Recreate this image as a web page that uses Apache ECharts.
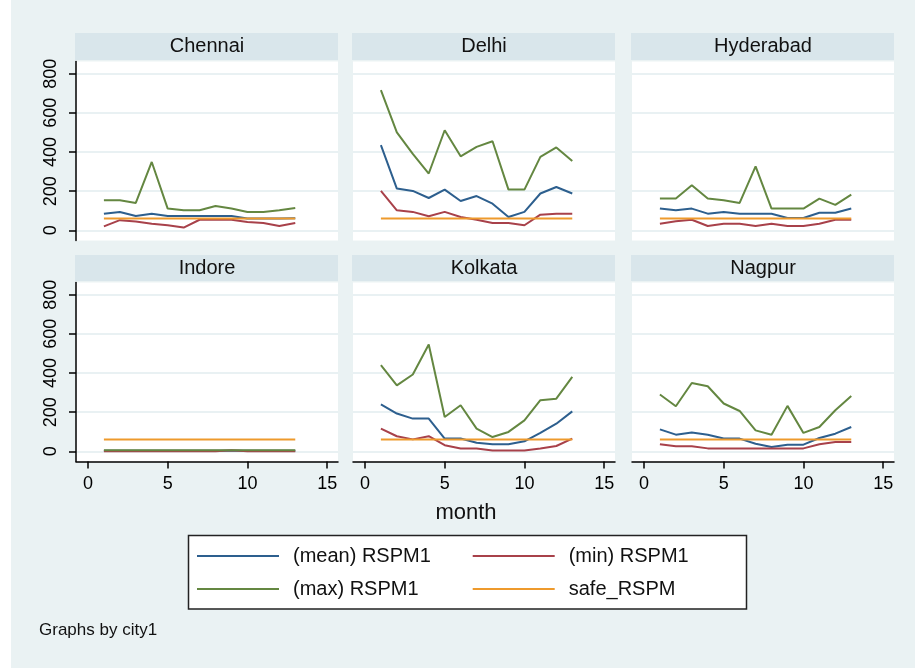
<!DOCTYPE html>
<html><head><meta charset="utf-8">
<script src="https://cdn.jsdelivr.net/npm/echarts@6/dist/echarts.min.js"></script>
<style>html,body{margin:0;padding:0;background:#fff}#c{width:915px;height:668px}</style>
</head><body><div id="c"></div>
<script>
const months = [1,2,3,4,5,6,7,8,9,10,11,12,13];
const cities = ['Chennai','Delhi','Hyderabad','Indore','Kolkata','Nagpur'];
const yTicks = [0,200,400,600,800];
const xTicks = [0,5,10,15];
const seriesNames = ['(mean) RSPM1','(min) RSPM1','(max) RSPM1','safe_RSPM'];

const chennaiMean = [85,94,73,85,73,73,73,73,73,60,60,60,62];
const chennaiMin  = [20,52,45,34,26,14,54,54,54,43,37,22,37];
const chennaiMax  = [153,153,140,349,111,102,102,124,111,94,94,102,114];

const delhiMean = [435,213,201,165,208,150,175,136,68,94,188,221,188];
const delhiMin  = [201,102,94,72,94,68,54,37,37,26,80,85,85];
const delhiMax  = [716,500,390,290,511,378,426,455,208,208,375,423,354];

const hyderabadMean = [111,102,111,85,94,85,85,85,63,63,90,90,111];
const hyderabadMin  = [34,46,54,22,34,34,22,34,22,22,34,54,54];
const hyderabadMax  = [162,162,230,162,153,140,327,111,111,111,162,130,182];

const indoreMean = [3,3,3,3,3,3,3,3,3,3,3,3,3];
const indoreMin  = [0,0,0,0,0,0,0,0,6,0,0,0,0];
const indoreMax  = [6,6,6,6,6,6,6,6,6,6,6,6,6];

const kolkataMean = [240,193,167,167,65,65,44,36,36,51,94,141,204];
const kolkataMin  = [116,77,61,77,31,14,14,4,4,4,14,27,65];
const kolkataMax  = [440,337,392,545,175,235,116,73,99,158,261,269,380];

const nagpurMean = [112,85,96,85,65,65,39,22,34,34,68,90,124];
const nagpurMin  = [36,26,26,15,15,15,15,15,15,15,36,48,48];
const nagpurMax  = [290,230,349,332,244,206,107,85,232,94,124,210,283];

const safeRSPM = [60,60,60,60,60,60,60,60,60,60,60,60,60];

const cityData = [
  [chennaiMean, chennaiMin, chennaiMax, safeRSPM],
  [delhiMean, delhiMin, delhiMax, safeRSPM],
  [hyderabadMean, hyderabadMin, hyderabadMax, safeRSPM],
  [indoreMean, indoreMin, indoreMax, safeRSPM],
  [kolkataMean, kolkataMin, kolkataMax, safeRSPM],
  [nagpurMean, nagpurMin, nagpurMax, safeRSPM]
];

const colors = ['#2d5f8e','#a8414a','#648741','#ee9a2c'];
const FONT = '"Liberation Sans", Arial, sans-serif';
const cols = [{left:76,width:262},{left:353,width:262},{left:632,width:262}];
const rows = [{top:61.5,height:179,head:33,headH:27},{top:282.5,height:179,head:255,headH:26}];

const grids = [], xAxes = [], yAxes = [], series = [], graphics = [];
cities.forEach((city, i) => {
  const c = cols[i % 3], r = rows[Math.floor(i / 3)];
  const bottom = i >= 3, leftCol = (i % 3) === 0;
  grids.push({left:c.left, top:r.top, width:c.width, height:r.height, show:true,
    backgroundColor:'#ffffff', borderWidth:0, containLabel:false, outerBoundsMode:'none'});
  xAxes.push({type:'value', gridIndex:i, min:-0.75, max:15.68, show:bottom,
    axisLine:{show:bottom, onZero:false, lineStyle:{color:'#000', width:1.5}},
    axisTick:{show:bottom, customValues:xTicks, length:7, lineStyle:{color:'#000', width:1.5}},
    axisLabel:{show:bottom, customValues:xTicks, fontSize:18, fontFamily:FONT, color:'#000', margin:14},
    splitLine:{show:false}});
  yAxes.push({type:'value', gridIndex:i, min:-52, max:862,
    axisLine:{show:leftCol, onZero:false, lineStyle:{color:'#000', width:1.5}},
    axisTick:{show:leftCol, customValues:yTicks, length:7, lineStyle:{color:'#000', width:1.5}},
    axisLabel:{show:leftCol, customValues:yTicks, rotate:90, fontSize:18, fontFamily:FONT, color:'#000', margin:16},
    splitLine:{show:true, lineStyle:{color:'#e9f1f3', width:2}}});
  cityData[i].forEach((arr, k) => {
    series.push({name:seriesNames[k], type:'line', xAxisIndex:i, yAxisIndex:i,
      data: months.map((m, j) => [m, arr[j]]), showSymbol:false, symbol:'none',
      color:colors[k], lineStyle:{color:colors[k], width:2}, silent:true, animation:false});
  });
  graphics.push({type:'rect', shape:{x:c.left - 1, y:r.head, width:c.width + 1, height:r.headH},
    style:{fill:'#d9e6eb'}, z:1});
  graphics.push({type:'text', style:{text:city, x:c.left + c.width / 2, y:r.head + r.headH / 2,
    align:'center', verticalAlign:'middle', font:'20px ' + FONT, fill:'#111'}, z:2});
});

graphics.unshift({type:'rect', shape:{x:0, y:0, width:11, height:668}, style:{fill:'#ffffff'}, z:0});
graphics.push({type:'rect', shape:{x:188.5, y:535.5, width:558, height:73.5},
  style:{fill:'#ffffff', stroke:'#222', lineWidth:1.5}, z:1});
graphics.push({type:'text', style:{text:'month', x:466, y:513, align:'center', verticalAlign:'middle',
  font:'22px ' + FONT, fill:'#111'}, z:2});
graphics.push({type:'text', style:{text:'Graphs by city1', x:39, y:630, align:'left', verticalAlign:'middle',
  font:'17px ' + FONT, fill:'#111'}, z:2});

const legendPos = [[197,546],[472.7,546],[197,579],[472.7,579]];
const legends = seriesNames.map((n, k) => ({data:[n], left:legendPos[k][0], top:legendPos[k][1],
  orient:'horizontal', padding:0, icon:'rect', itemWidth:82, itemHeight:2, selectedMode:false,
  textStyle:{fontSize:20, fontFamily:FONT, color:'#111', padding:[0,0,0,9]}, z:5}));

const chart = echarts.init(document.getElementById('c'), null, {renderer:'canvas'});
chart.setOption({
  backgroundColor:'#eaf2f3', animation:false,
  grid:grids, xAxis:xAxes, yAxis:yAxes, series:series, legend:legends, graphic:graphics
});
</script></body></html>
